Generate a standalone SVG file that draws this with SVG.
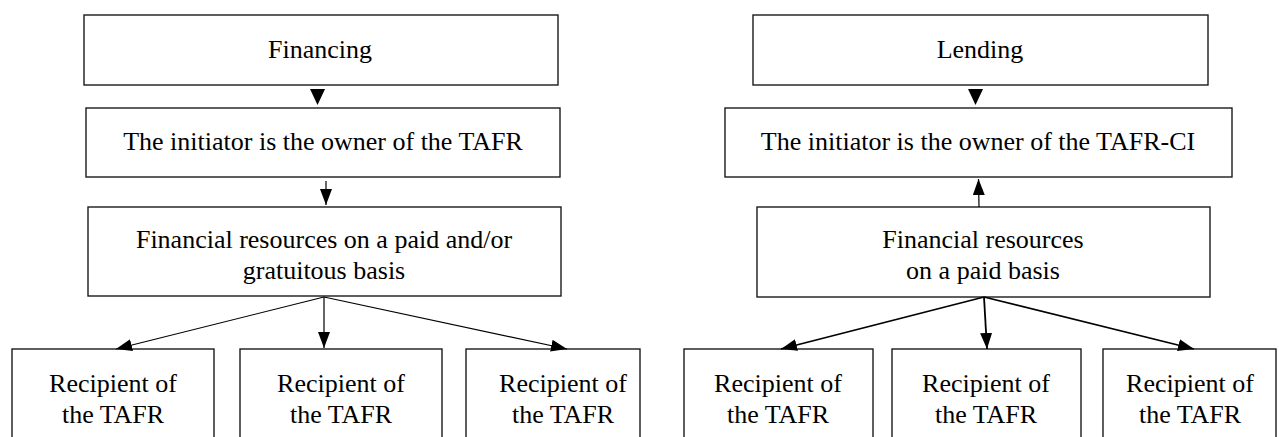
<svg xmlns="http://www.w3.org/2000/svg" width="1279" height="437" viewBox="0 0 1279 437">
<defs>
<marker id="ah" viewBox="0 0 16 12" refX="16" refY="6" markerWidth="16" markerHeight="12" markerUnits="userSpaceOnUse" orient="auto">
<path d="M0,0 L16,6 L0,12 Z" fill="#000"/>
</marker>
</defs>
<rect width="1279" height="437" fill="#fff"/>
<g fill="#fff" stroke="#1a1a1a" stroke-width="1.4">
<rect id="financing" x="84" y="15" width="474" height="70"/>
<rect id="initiator-left" x="86" y="108" width="474" height="69"/>
<rect id="resources-left" x="88" y="207" width="473" height="89"/>
<rect id="recipient-l1" x="12" y="349" width="202" height="100"/>
<rect id="recipient-l2" x="240" y="349" width="202" height="100"/>
<rect id="recipient-l3" x="466" y="349" width="174" height="100"/>
<rect id="lending" x="753" y="15" width="455" height="70"/>
<rect id="initiator-right" x="725" y="108" width="507" height="69"/>
<rect id="resources-right" x="757" y="207" width="453" height="90"/>
<rect id="recipient-r1" x="684" y="349" width="189" height="100"/>
<rect id="recipient-r2" x="892" y="349" width="189" height="100"/>
<rect id="recipient-r3" x="1103" y="349" width="173" height="100"/>
</g>
<g id="labels" fill="#000" text-anchor="middle">
<text font-family="Liberation Serif" font-size="26" x="320" y="58">Financing</text>
<text font-family="Liberation Serif" font-size="26" x="323" y="150">The initiator is the owner of the TAFR</text>
<text font-family="Liberation Serif" font-size="26" x="324" y="248">Financial resources on a paid and/or</text>
<text font-family="Liberation Serif" font-size="26" x="324" y="279">gratuitous basis</text>
<text font-family="Liberation Serif" font-size="26" x="113" y="392">Recipient of</text>
<text font-family="Liberation Serif" font-size="26" x="113" y="423">the TAFR</text>
<text font-family="Liberation Serif" font-size="26" x="341" y="392">Recipient of</text>
<text font-family="Liberation Serif" font-size="26" x="341" y="423">the TAFR</text>
<text font-family="Liberation Serif" font-size="26" x="563" y="392">Recipient of</text>
<text font-family="Liberation Serif" font-size="26" x="563" y="423">the TAFR</text>
<text font-family="Liberation Serif" font-size="26" x="980" y="58">Lending</text>
<text font-family="Liberation Serif" font-size="26" x="978" y="150">The initiator is the owner of the TAFR-CI</text>
<text font-family="Liberation Serif" font-size="26" x="983" y="248">Financial resources</text>
<text font-family="Liberation Serif" font-size="26" x="983" y="279">on a paid basis</text>
<text font-family="Liberation Serif" font-size="26" x="778" y="392">Recipient of</text>
<text font-family="Liberation Serif" font-size="26" x="778" y="423">the TAFR</text>
<text font-family="Liberation Serif" font-size="26" x="986" y="392">Recipient of</text>
<text font-family="Liberation Serif" font-size="26" x="986" y="423">the TAFR</text>
<text font-family="Liberation Serif" font-size="26" x="1190" y="392">Recipient of</text>
<text font-family="Liberation Serif" font-size="26" x="1190" y="423">the TAFR</text>
</g>
<g id="connectors">
<path fill="#000" d="M310,89 L325,89 L317.5,105 Z"/>
<path fill="#000" d="M968,89 L983,89 L975.5,105 Z"/>
<g stroke="#000" stroke-width="1.2" fill="none">
<line x1="326" y1="181" x2="326" y2="205" marker-end="url(#ah)"/>
<line x1="324" y1="297" x2="116" y2="349" marker-end="url(#ah)"/>
<line x1="324" y1="297" x2="324" y2="348" marker-end="url(#ah)"/>
<line x1="324" y1="297" x2="567" y2="349" marker-end="url(#ah)"/>
<line x1="979" y1="207" x2="978.5" y2="179" marker-end="url(#ah)"/>
</g>
<g stroke="#000" stroke-width="1.8" fill="none">
<line x1="984" y1="297" x2="781" y2="349" marker-end="url(#ah)"/>
<line x1="984" y1="297" x2="987" y2="349" marker-end="url(#ah)"/>
<line x1="984" y1="297" x2="1194" y2="349" marker-end="url(#ah)"/>
</g>
</g>
</svg>
